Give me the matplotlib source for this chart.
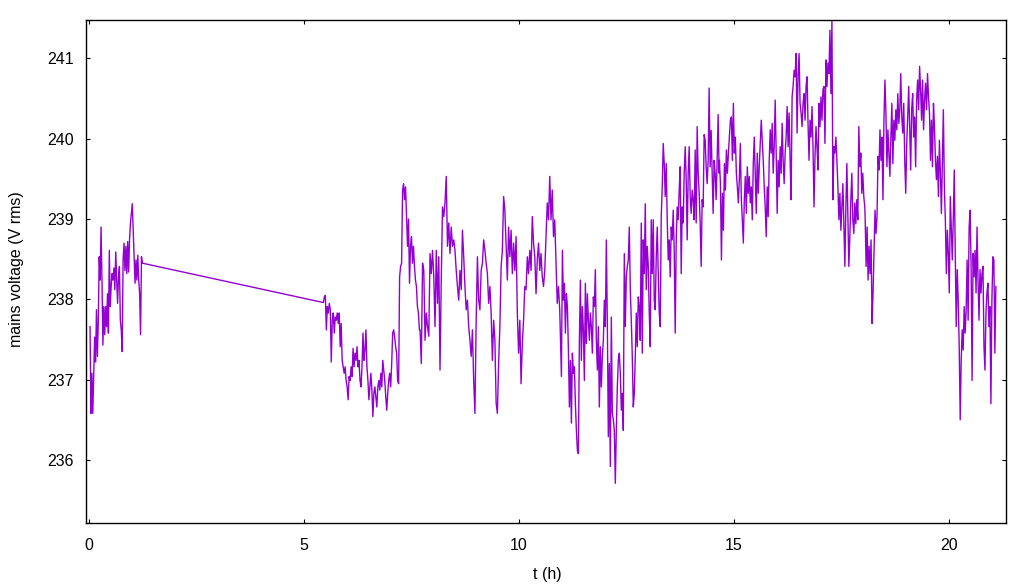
import numpy as np
import matplotlib
matplotlib.use("Agg")
import matplotlib.pyplot as plt

# mains voltage log (V rms)
# each block: start time (h), end time (h), samples in between
block_a_t = (0.017, 1.235)
block_a_v = [237.66, 236.58, 237.08, 236.58, 237.04, 237.53, 237.22, 237.87, 237.29, 237.74,
             238.53, 238.24, 238.90, 238.24, 237.43, 237.91, 237.56, 237.91, 237.66, 238.07,
             237.58, 238.61, 237.91, 238.16, 238.32, 238.24, 238.39, 238.12, 238.59, 238.24,
             237.95, 238.28, 238.41, 237.74, 237.62, 237.35, 238.49, 238.70, 238.36, 238.66,
             238.32, 238.72, 238.34, 238.74, 238.95, 239.07, 239.19, 238.86, 238.53, 238.20,
             238.49, 238.24, 238.55, 238.24, 238.07, 237.56, 238.53, 238.45]

block_b_t = (5.446, 7.681)
block_b_v = [237.96, 238.03, 238.05, 237.62, 237.91, 237.83, 237.95, 237.87, 237.22, 237.74,
             237.83, 237.58, 237.78, 237.74, 237.83, 237.70, 237.83, 237.41, 237.70, 237.24,
             237.16, 237.08, 237.16, 236.99, 236.91, 236.75, 237.04, 236.99, 237.16, 237.04,
             237.39, 237.16, 237.33, 237.24, 237.41, 237.16, 237.24, 236.99, 236.91, 237.16,
             237.58, 237.24, 237.37, 237.62, 237.16, 236.99, 236.75, 236.91, 237.08, 236.87,
             236.54, 236.83, 236.91, 236.79, 236.66, 236.91, 236.99, 236.87, 237.08, 236.91,
             237.24, 237.12, 236.99, 236.79, 236.62, 236.83, 236.99, 237.08, 236.91, 237.20,
             237.58, 237.62, 237.53, 237.41, 237.33, 236.99, 236.95, 238.28, 238.41, 238.45,
             239.36, 239.44, 239.24, 239.40, 239.03, 238.66, 239.00, 238.20, 238.66, 238.78,
             238.45, 238.66, 238.41, 238.24, 238.16, 237.91, 237.83, 237.62]

block_c_t = (7.696, 10.946)
block_c_v = [237.62, 237.20, 238.45, 238.36, 237.49, 237.83, 237.66, 237.54, 238.57, 238.32,
             238.61, 238.28, 237.66, 238.61, 237.95, 238.53, 237.12, 238.24, 239.15, 239.03,
             239.20, 239.53, 238.66, 238.95, 238.57, 238.90, 238.66, 238.74, 238.61, 238.36,
             238.16, 237.99, 238.36, 238.12, 238.86, 238.53, 238.16, 237.87, 237.99, 237.66,
             237.49, 237.29, 237.62, 236.99, 236.58, 237.74, 238.53, 237.99, 237.87, 238.36,
             238.45, 238.74, 238.61, 238.45, 238.32, 237.95, 238.16, 237.83, 237.24, 237.74,
             237.49, 236.71, 236.58, 237.20, 237.66, 238.41, 238.61, 239.28, 239.11, 238.66,
             238.24, 238.90, 238.53, 238.86, 238.32, 238.70, 238.36, 238.78, 237.83, 237.33,
             237.74, 236.95, 237.45, 237.74, 238.16, 238.12, 238.53, 238.32, 238.61, 238.36,
             239.03, 238.70, 238.53, 238.07, 238.49, 238.70, 238.36, 238.57, 238.28, 238.16,
             238.36, 238.78, 239.20, 238.99, 239.53, 238.99, 239.36, 238.78, 238.99, 238.45,
             237.95, 238.16, 237.87]

block_d_t = (10.962, 14.655)
block_d_v = [237.53, 237.04, 238.61, 237.99, 238.20, 237.58, 238.07, 237.91, 237.37, 236.66,
             237.24, 236.46, 237.33, 237.08, 237.16, 236.70, 236.37, 236.12, 236.08, 237.49,
             238.24, 237.24, 237.91, 237.62, 236.99, 238.20, 237.45, 238.07, 237.74, 237.49,
             237.83, 237.66, 237.33, 238.03, 237.91, 238.37, 237.49, 237.12, 237.66, 236.66,
             237.41, 236.91, 237.29, 237.49, 237.99, 237.66, 238.74, 237.70, 236.29, 237.20,
             235.92, 237.78, 236.58, 236.50, 236.37, 235.71, 236.37, 236.91, 237.24, 237.33,
             237.08, 236.62, 236.83, 236.37, 238.57, 237.66, 238.28, 238.41, 238.49, 238.90,
             238.12, 237.74, 237.29, 236.66, 236.83, 237.29, 237.83, 237.41, 238.03, 237.91,
             237.49, 238.95, 237.33, 238.74, 238.32, 239.19, 238.12, 238.66, 238.41, 237.83,
             237.41, 238.99, 238.32, 238.99, 237.99, 237.87, 238.53, 238.90, 238.32, 237.83,
             237.66, 239.03, 239.40, 239.94, 239.69, 239.28, 239.69, 238.99, 238.49, 238.74,
             238.28, 238.90, 238.74, 239.11, 238.61, 237.58, 238.74, 239.15, 238.99, 239.36,
             239.65, 238.32, 239.15, 238.95, 239.57, 239.90, 239.49, 238.74, 239.57, 239.90,
             239.28, 239.07, 239.36, 239.24, 238.99, 239.86, 238.95, 240.15, 239.57, 239.32,
             238.95, 238.41, 239.24, 239.15, 240.05, 239.98, 239.65, 239.44, 239.73, 240.63,
             239.65, 240.10, 239.57, 239.07, 239.73, 239.57, 239.24, 239.73, 240.30, 239.57]

block_e_t = (14.662, 18.044)
block_e_v = [239.73, 239.44, 238.49, 239.32, 238.86, 239.69, 239.36, 239.86, 239.57, 239.82,
             240.02, 240.23, 240.27, 239.73, 240.44, 239.82, 240.02, 239.57, 239.40, 239.20,
             239.49, 239.94, 239.24, 238.99, 238.70, 239.24, 239.53, 239.07, 239.65, 239.32,
             239.53, 239.20, 239.40, 238.99, 239.69, 240.02, 239.57, 239.07, 239.82, 239.32,
             239.65, 239.94, 240.23, 239.98, 239.73, 239.40, 239.15, 238.78, 239.40, 239.03,
             239.73, 240.11, 239.82, 240.19, 239.57, 239.90, 240.48, 239.82, 239.07, 239.73,
             239.40, 239.90, 239.57, 240.19, 239.73, 239.44, 239.82, 240.02, 240.40, 239.90,
             240.32, 239.73, 239.24, 240.52, 240.65, 240.85, 240.77, 241.06, 240.07, 240.81,
             241.06, 240.44, 240.32, 240.15, 240.44, 240.56, 240.23, 240.65, 240.77, 240.19,
             239.73, 240.23, 240.02, 240.40, 239.90, 239.15, 239.78, 240.15, 239.90, 239.61,
             240.44, 240.15, 240.52, 240.23, 240.61, 240.65, 239.94, 240.98, 240.65, 240.94,
             240.81, 241.35, 240.56, 241.48, 239.24, 239.90, 239.82, 240.02, 239.73, 239.40,
             238.99, 239.32, 238.86, 239.15, 239.44, 238.90, 238.41, 239.15, 239.69, 239.07,
             238.41, 238.78, 239.24, 239.57, 238.99, 238.82, 239.20, 238.94, 239.24, 238.99,
             240.15, 239.65, 239.82, 239.32, 239.57, 239.28, 239.15]

block_f_t = (18.052, 21.094)
block_f_v = [239.03, 238.41, 238.90, 238.24, 238.66, 238.32, 238.74, 237.70, 238.08, 238.57,
             239.11, 238.82, 239.03, 239.78, 239.61, 240.11, 239.73, 240.02, 239.24, 240.23,
             240.73, 240.32, 239.65, 240.11, 239.82, 239.53, 240.02, 240.44, 239.69, 240.23,
             239.98, 240.36, 240.11, 240.56, 240.19, 240.36, 240.81, 240.27, 240.07, 240.44,
             239.73, 239.32, 239.94, 240.27, 240.65, 240.15, 239.61, 240.36, 240.56, 240.02,
             240.27, 239.65, 240.48, 240.73, 240.36, 240.90, 240.61, 240.23, 240.73, 240.11,
             240.48, 240.69, 240.36, 240.81, 240.52, 240.32, 239.73, 240.23, 239.65, 240.44,
             240.15, 239.73, 239.49, 239.78, 239.28, 239.98, 239.57, 239.07, 239.73, 240.36,
             239.40, 238.99, 238.32, 238.86, 238.57, 238.08, 239.28, 238.90, 238.49, 238.99,
             239.61, 238.57, 237.66, 238.37, 237.99, 237.41, 236.50, 237.24, 237.62, 237.37,
             237.91, 237.58, 237.87, 238.49, 237.74, 238.90, 239.11, 238.41, 236.99, 238.57,
             238.28, 238.61, 238.08, 238.90, 238.24, 237.74, 238.37, 238.08, 238.32, 238.41,
             237.41, 237.12, 237.83, 238.08, 238.20, 237.66, 237.91, 236.70, 237.99, 238.53,
             238.49, 237.33, 238.16]

blocks = [(block_a_t, block_a_v), (block_b_t, block_b_v), (block_c_t, block_c_v),
          (block_d_t, block_d_v), (block_e_t, block_e_v), (block_f_t, block_f_v)]

t = np.concatenate([np.linspace(a, b, len(v)) for (a, b), v in blocks])
volts = np.concatenate([v for _, v in blocks])

plt.rcParams['font.family'] = ['Liberation Sans', 'DejaVu Sans']

fig = plt.figure(figsize=(10.33, 5.88), dpi=100)
ax = fig.add_axes([86 / 1033, 65 / 588, 920 / 1033, 503 / 588])

ax.plot(t, volts, color='#9400D3', linewidth=1.0)

ax.set_xlim(-0.077, 21.33)
ax.set_ylim(235.216, 241.477)
ax.set_xticks([0, 5, 10, 15, 20])
ax.set_yticks([236, 237, 238, 239, 240, 241])
ax.tick_params(direction='in', length=3, width=0.8, top=True, right=True,
               labelsize=11.5, colors='black')
ax.tick_params(axis='x', pad=11)
ax.tick_params(axis='y', pad=9)
for s in ax.spines.values():
    s.set_linewidth(1.0)

fig.text(17 / 1033, 0.543, 'mains voltage (V rms)', rotation=90,
         ha='center', va='center', fontsize=11.5)
fig.text(547 / 1033, 1 - 575 / 588, 't (h)', ha='center', va='center', fontsize=11.5)

fig.savefig('out.png', dpi=100)
